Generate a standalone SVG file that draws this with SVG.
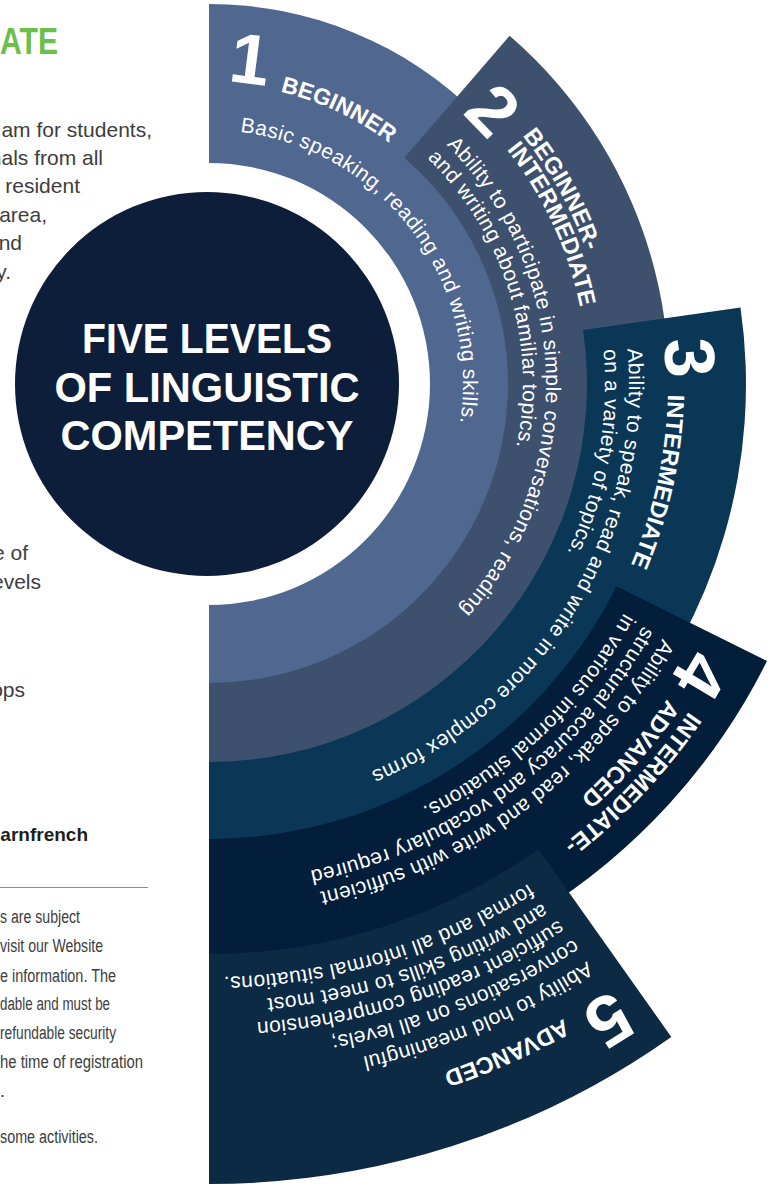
<svg xmlns="http://www.w3.org/2000/svg" width="774" height="1187" viewBox="0 0 774 1187">
<style>
.body{font-family:"Liberation Sans",Arial,sans-serif;font-size:21px;fill:#3d3d3d}
.cond{font-family:"Liberation Sans",Arial,sans-serif;font-size:18px;fill:#3d3d3d}
.desc{font-family:"Liberation Sans",Arial,sans-serif;font-size:21px;letter-spacing:0.45px;fill:#ffffff}
.ttl{font-family:"Liberation Sans",Arial,sans-serif;font-size:23.6px;font-weight:bold;fill:#ffffff}
.num{font-family:"Liberation Sans",Arial,sans-serif;font-size:71px;font-weight:bold;fill:#ffffff}
.ctr{font-family:"Liberation Sans",Arial,sans-serif;font-size:42px;font-weight:bold;fill:#ffffff}
</style>
<defs>
<path id="p1n" d="M227.5,81.6 A303,303 0 0 1 360.5,121.6"/>
<path id="p1t" d="M280.3,91.6 A301,301 0 0 1 510,384"/>
<path id="p1d" d="M240,131.9 A254,254 0 0 1 403.6,547.3"/>
<path id="p2n" d="M461.3,113.4 A370,370 0 0 1 556.7,257.5"/>
<path id="p2t1" d="M522.5,135.5 A400,400 0 0 1 607.5,349.1"/>
<path id="p2t2" d="M506.8,149.6 A379,379 0 0 1 588,384"/>
<path id="p2d1" d="M446.5,144.9 A337,337 0 0 1 267.5,715.9"/>
<path id="p2d2" d="M427.2,158.2 A313,313 0 0 1 365.5,655.1"/>
<path id="p3n" d="M663.8,339.4 A457,457 0 0 1 638.4,540.3"/>
<path id="p3t" d="M667.9,394.4 A459,459 0 0 1 560.6,679"/>
<path id="p3d1" d="M627.5,348.8 A420,420 0 0 1 209,804"/>
<path id="p3d2" d="M603.5,349.5 A396,396 0 0 1 407,726.9"/>
<path id="p4n" d="M689.3,645.8 A547,547 0 0 1 560.6,803"/>
<path id="p4t1" d="M689,711.4 A581,581 0 0 1 407.7,930"/>
<path id="p4t2" d="M667.2,698.9 A556,556 0 0 1 399.2,906.5"/>
<path id="p4d1" d="M662.5,638.5 A520,520 0 0 1 190.9,903.7"/>
<path id="p4d2" d="M643.3,625.7 A497,497 0 0 1 191.7,880.7"/>
<path id="p4d3" d="M624,613.1 A474,474 0 0 1 192.5,857.7"/>
<path id="p5n" d="M612.4,988.8 A727,727 0 0 1 397.2,1086.2"/>
<path id="p5t" d="M563.7,1018.6 A727,727 0 0 1 272.4,1108.2"/>
<path id="p5d1" d="M586.9,961.3 A690,690 0 0 1 184.9,1073.6"/>
<path id="p5d2" d="M573.5,939 A664,664 0 0 1 185.8,1047.6"/>
<path id="p5d3" d="M558.5,920.1 A640,640 0 0 1 186.7,1023.6"/>
<path id="p5d4" d="M542.3,903.2 A617,617 0 0 1 187.5,1000.6"/>
<path id="p5d5" d="M528.5,883.6 A593,593 0 0 1 188.3,976.6"/>
</defs>
<rect width="774" height="1187" fill="#ffffff"/>

<g id="page-text">
<text class="body" x="0" y="54" textLength="58" lengthAdjust="spacingAndGlyphs" style="font-size:36px;font-weight:bold;fill:#6cbf4a">ATE</text>
<text class="body" x="152" y="137" text-anchor="end">am for students,</text>
<text class="body" x="103" y="165" text-anchor="end">nals from all</text>
<text class="body" x="80" y="193" text-anchor="end">resident</text>
<text class="body" x="47" y="222" text-anchor="end">area,</text>
<text class="body" x="22" y="250" text-anchor="end">nd</text>
<text class="body" x="11" y="279" text-anchor="end">y.</text>
<text class="body" x="28" y="560" text-anchor="end">e of</text>
<text class="body" x="41" y="589" text-anchor="end">evels</text>
<text class="body" x="25" y="697" text-anchor="end">ops</text>
<text class="body" x="88" y="841" text-anchor="end" style="font-weight:bold;fill:#1e1e1e;font-size:19px">arnfrench</text>
<line x1="0" y1="887.5" x2="148" y2="887.5" stroke="#8a8a8a" stroke-width="1"/>
<text class="cond" x="0" y="923" textLength="80" lengthAdjust="spacingAndGlyphs">s are subject</text>
<text class="cond" x="0" y="952" textLength="103" lengthAdjust="spacingAndGlyphs">visit our Website</text>
<text class="cond" x="0" y="982" textLength="116" lengthAdjust="spacingAndGlyphs">e information. The</text>
<text class="cond" x="0" y="1010" textLength="110" lengthAdjust="spacingAndGlyphs">dable and must be</text>
<text class="cond" x="0" y="1039" textLength="116" lengthAdjust="spacingAndGlyphs">refundable security</text>
<text class="cond" x="0" y="1068" textLength="143" lengthAdjust="spacingAndGlyphs">he time of registration</text>
<text class="cond" x="0" y="1097">.</text>
<text class="cond" x="0" y="1143" textLength="98" lengthAdjust="spacingAndGlyphs">some activities.</text>
</g>

<g id="level-1">
<path d="M209,4 A380,380 0 0 1 209,764 L209,605 A221,221 0 0 0 209,163 Z" fill="#506790"/>
<text class="num"><textPath href="#p1n">1</textPath></text>
<text class="ttl" style="font-size:23px"><textPath href="#p1t">BEGINNER</textPath></text>
<text class="desc"><textPath href="#p1d">Basic speaking, reading and writing skills.</textPath></text>
</g>

<g id="level-2">
<path d="M404.4,157.7 L509.6,35.8 A460,460 0 0 1 209,844 L209,683 A299,299 0 0 0 404.4,157.7 Z" fill="#3d506e"/>
<text class="num"><textPath href="#p2n">2</textPath></text>
<text class="ttl"><textPath href="#p2t1">BEGINNER-</textPath></text>
<text class="ttl"><textPath href="#p2t2">INTERMEDIATE</textPath></text>
<text class="desc"><textPath href="#p2d1">Ability to participate in simple conversations, reading</textPath></text>
<text class="desc"><textPath href="#p2d2">and writing about familiar topics.</textPath></text>
</g>

<g id="level-3">
<path d="M583.1,330.1 L740.5,307.4 A537,537 0 0 1 209,921 L209,762 A378,378 0 0 0 583.1,330.1 Z" fill="#0a3756"/>
<text class="num"><textPath href="#p3n">3</textPath></text>
<text class="ttl"><textPath href="#p3t">INTERMEDIATE</textPath></text>
<text class="desc"><textPath href="#p3d1">Ability to speak, read and write in more complex forms</textPath></text>
<text class="desc"><textPath href="#p3d2">on a variety of topics.</textPath></text>
</g>

<g id="level-4">
<path d="M616.5,586.3 L767,661 A623,623 0 0 1 209,1007 L209,839 A455,455 0 0 0 616.5,586.3 Z" fill="#021e3b"/>
<text class="num"><textPath href="#p4n">4</textPath></text>
<text class="ttl"><textPath href="#p4t1">INTERMEDIATE-</textPath></text>
<text class="ttl"><textPath href="#p4t2">ADVANCED</textPath></text>
<text class="desc"><textPath href="#p4d1">Ability to speak, read and write with sufficient</textPath></text>
<text class="desc"><textPath href="#p4d2">structural accuracy and vocabulary required</textPath></text>
<text class="desc"><textPath href="#p4d3">in various informal situations.</textPath></text>
</g>

<g id="level-5">
<path d="M538.4,849.2 L671.3,1036.9 A800,800 0 0 1 209,1184 L209,954 A570,570 0 0 0 538.4,849.2 Z" fill="#0c2a44"/>
<text class="num"><textPath href="#p5n">5</textPath></text>
<text class="ttl"><textPath href="#p5t">ADVANCED</textPath></text>
<text class="desc"><textPath href="#p5d1">Ability to hold meaningful</textPath></text>
<text class="desc"><textPath href="#p5d2">conversations on all levels;</textPath></text>
<text class="desc"><textPath href="#p5d3">sufficient reading comprehension</textPath></text>
<text class="desc"><textPath href="#p5d4">and writing skills to meet most</textPath></text>
<text class="desc"><textPath href="#p5d5">formal and all informal situations.</textPath></text>
</g>

<g id="center">
<circle cx="207" cy="384" r="192" fill="#0c1e3a"/>
<text class="ctr" x="207" y="353" text-anchor="middle" textLength="250" lengthAdjust="spacingAndGlyphs">FIVE LEVELS</text>
<text class="ctr" x="207" y="402" text-anchor="middle" textLength="305" lengthAdjust="spacingAndGlyphs">OF LINGUISTIC</text>
<text class="ctr" x="207" y="450" text-anchor="middle" textLength="293" lengthAdjust="spacingAndGlyphs">COMPETENCY</text>
</g>
</svg>
